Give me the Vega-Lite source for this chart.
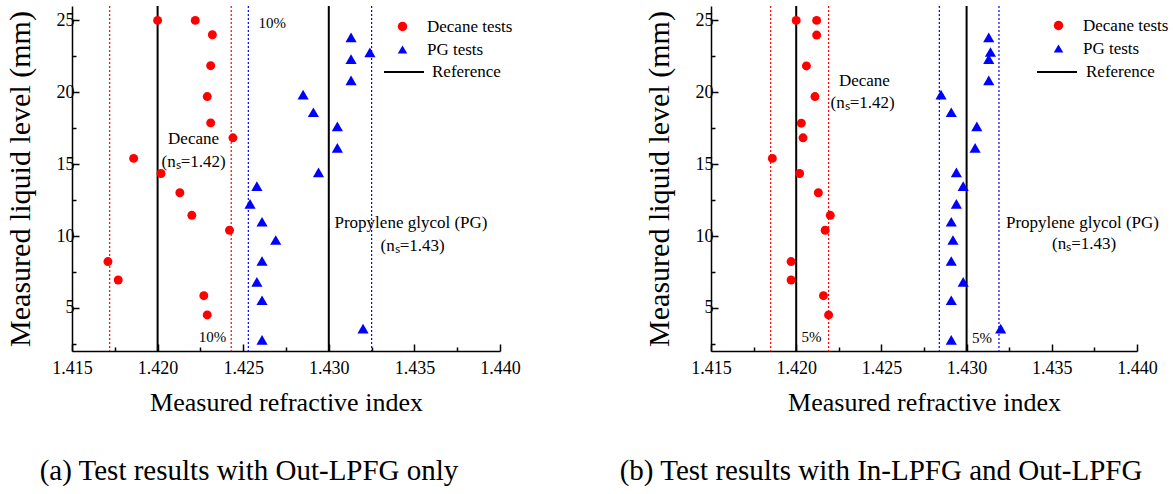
{
  "$schema": "https://vega.github.io/schema/vega-lite/v6.json",
  "background": "white",
  "padding": {"left": 5, "top": 5, "right": 0, "bottom": 0},
  "bounds": "flush",
  "spacing": 211,
  "config": {
    "font": "Liberation Serif",
    "view": {"stroke": null},
    "axis": {
      "labelFont": "Liberation Serif", "labelFontSize": 18, "labelColor": "black", "labelFlush": false,
      "titleFont": "Liberation Serif", "titleFontWeight": "normal", "titleColor": "black",
      "domainColor": "black", "domainWidth": 1.5, "tickColor": "black", "tickWidth": 1.5, "grid": false
    },
    "legend": {"labelFont": "Liberation Serif", "labelFontSize": 17, "labelColor": "black", "padding": 0},
    "text": {"font": "Liberation Serif", "fontSize": 17, "color": "black"}
  },
  "datasets": {
    "pts": [
      {"p": "a", "m": "Decane tests", "x": 1.4200, "y": 25.0},
      {"p": "a", "m": "Decane tests", "x": 1.4222, "y": 25.0},
      {"p": "a", "m": "Decane tests", "x": 1.4232, "y": 24.0},
      {"p": "a", "m": "Decane tests", "x": 1.4231, "y": 21.85},
      {"p": "a", "m": "Decane tests", "x": 1.4229, "y": 19.7},
      {"p": "a", "m": "Decane tests", "x": 1.4231, "y": 17.87},
      {"p": "a", "m": "Decane tests", "x": 1.4244, "y": 16.83},
      {"p": "a", "m": "Decane tests", "x": 1.4186, "y": 15.4},
      {"p": "a", "m": "Decane tests", "x": 1.4202, "y": 14.35},
      {"p": "a", "m": "Decane tests", "x": 1.4213, "y": 13.01},
      {"p": "a", "m": "Decane tests", "x": 1.4220, "y": 11.44},
      {"p": "a", "m": "Decane tests", "x": 1.4242, "y": 10.4},
      {"p": "a", "m": "Decane tests", "x": 1.4171, "y": 8.22},
      {"p": "a", "m": "Decane tests", "x": 1.4177, "y": 6.94},
      {"p": "a", "m": "Decane tests", "x": 1.4227, "y": 5.85},
      {"p": "a", "m": "Decane tests", "x": 1.4229, "y": 4.51},
      {"p": "a", "m": "PG tests", "x": 1.4313, "y": 23.82},
      {"p": "a", "m": "PG tests", "x": 1.4324, "y": 22.78},
      {"p": "a", "m": "PG tests", "x": 1.4313, "y": 22.31},
      {"p": "a", "m": "PG tests", "x": 1.4313, "y": 20.83},
      {"p": "a", "m": "PG tests", "x": 1.4285, "y": 19.84},
      {"p": "a", "m": "PG tests", "x": 1.4291, "y": 18.61},
      {"p": "a", "m": "PG tests", "x": 1.4305, "y": 17.62},
      {"p": "a", "m": "PG tests", "x": 1.4305, "y": 16.13},
      {"p": "a", "m": "PG tests", "x": 1.4294, "y": 14.42},
      {"p": "a", "m": "PG tests", "x": 1.4258, "y": 13.47},
      {"p": "a", "m": "PG tests", "x": 1.4254, "y": 12.24},
      {"p": "a", "m": "PG tests", "x": 1.4261, "y": 10.99},
      {"p": "a", "m": "PG tests", "x": 1.4269, "y": 9.72},
      {"p": "a", "m": "PG tests", "x": 1.4261, "y": 8.26},
      {"p": "a", "m": "PG tests", "x": 1.4258, "y": 6.81},
      {"p": "a", "m": "PG tests", "x": 1.4261, "y": 5.53},
      {"p": "a", "m": "PG tests", "x": 1.4320, "y": 3.56},
      {"p": "a", "m": "PG tests", "x": 1.4261, "y": 2.78},
      {"p": "b", "m": "Decane tests", "x": 1.4200, "y": 25.0},
      {"p": "b", "m": "Decane tests", "x": 1.4212, "y": 25.0},
      {"p": "b", "m": "Decane tests", "x": 1.4212, "y": 23.98},
      {"p": "b", "m": "Decane tests", "x": 1.4206, "y": 21.83},
      {"p": "b", "m": "Decane tests", "x": 1.4211, "y": 19.7},
      {"p": "b", "m": "Decane tests", "x": 1.4203, "y": 17.85},
      {"p": "b", "m": "Decane tests", "x": 1.4204, "y": 16.83},
      {"p": "b", "m": "Decane tests", "x": 1.4186, "y": 15.4},
      {"p": "b", "m": "Decane tests", "x": 1.4202, "y": 14.35},
      {"p": "b", "m": "Decane tests", "x": 1.4213, "y": 13.01},
      {"p": "b", "m": "Decane tests", "x": 1.4220, "y": 11.44},
      {"p": "b", "m": "Decane tests", "x": 1.4217, "y": 10.4},
      {"p": "b", "m": "Decane tests", "x": 1.4197, "y": 8.22},
      {"p": "b", "m": "Decane tests", "x": 1.4197, "y": 6.94},
      {"p": "b", "m": "Decane tests", "x": 1.4216, "y": 5.85},
      {"p": "b", "m": "Decane tests", "x": 1.4219, "y": 4.51},
      {"p": "b", "m": "PG tests", "x": 1.4313, "y": 23.82},
      {"p": "b", "m": "PG tests", "x": 1.4314, "y": 22.8},
      {"p": "b", "m": "PG tests", "x": 1.4313, "y": 22.31},
      {"p": "b", "m": "PG tests", "x": 1.4313, "y": 20.83},
      {"p": "b", "m": "PG tests", "x": 1.4285, "y": 19.84},
      {"p": "b", "m": "PG tests", "x": 1.4291, "y": 18.61},
      {"p": "b", "m": "PG tests", "x": 1.4306, "y": 17.62},
      {"p": "b", "m": "PG tests", "x": 1.4305, "y": 16.13},
      {"p": "b", "m": "PG tests", "x": 1.4294, "y": 14.42},
      {"p": "b", "m": "PG tests", "x": 1.4298, "y": 13.47},
      {"p": "b", "m": "PG tests", "x": 1.4294, "y": 12.24},
      {"p": "b", "m": "PG tests", "x": 1.4291, "y": 10.99},
      {"p": "b", "m": "PG tests", "x": 1.4292, "y": 9.72},
      {"p": "b", "m": "PG tests", "x": 1.4291, "y": 8.26},
      {"p": "b", "m": "PG tests", "x": 1.4298, "y": 6.81},
      {"p": "b", "m": "PG tests", "x": 1.4291, "y": 5.53},
      {"p": "b", "m": "PG tests", "x": 1.4320, "y": 3.56},
      {"p": "b", "m": "PG tests", "x": 1.4291, "y": 2.78}
    ],
    "refs": [
      {"p": "a", "x": 1.42, "k": "Reference"},
      {"p": "a", "x": 1.43, "k": "Reference"},
      {"p": "b", "x": 1.42, "k": "Reference"},
      {"p": "b", "x": 1.43, "k": "Reference"}
    ],
    "bounds": [
      {"p": "a", "m": "Decane tests", "x": 1.4172},
      {"p": "a", "m": "Decane tests", "x": 1.4243},
      {"p": "a", "m": "PG tests", "x": 1.4253},
      {"p": "a", "m": "PG tests", "x": 1.4325},
      {"p": "b", "m": "Decane tests", "x": 1.4185},
      {"p": "b", "m": "Decane tests", "x": 1.4219},
      {"p": "b", "m": "PG tests", "x": 1.4284},
      {"p": "b", "m": "PG tests", "x": 1.4319}
    ],
    "notes": [
      {"p": "a", "k": "label", "t": "Decane", "x": 1.4221, "y": 16.74},
      {"p": "a", "k": "label", "t": "(nₛ=1.42)", "x": 1.4221, "y": 15.14},
      {"p": "a", "k": "label", "t": "Propylene glycol (PG)", "x": 1.4348, "y": 10.9},
      {"p": "a", "k": "label", "t": "(nₛ=1.43)", "x": 1.4349, "y": 9.31},
      {"p": "a", "k": "pct", "t": "10%", "x": 1.4267, "y": 24.8},
      {"p": "a", "k": "pct", "t": "10%", "x": 1.4232, "y": 3.0},
      {"p": "b", "k": "label", "t": "Decane", "x": 1.4240, "y": 20.76},
      {"p": "b", "k": "label", "t": "(nₛ=1.42)", "x": 1.4239, "y": 19.24},
      {"p": "b", "k": "label", "t": "Propylene glycol (PG)", "x": 1.4368, "y": 10.9},
      {"p": "b", "k": "label", "t": "(nₛ=1.43)", "x": 1.4369, "y": 9.44},
      {"p": "b", "k": "pct", "t": "5%", "x": 1.4209, "y": 3.0},
      {"p": "b", "k": "pct", "t": "5%", "x": 1.4309, "y": 2.92}
    ]
  },
  "resolve": {
    "scale": {"color": "independent", "shape": "independent", "strokeDash": "independent"},
    "legend": {"color": "independent", "shape": "independent", "strokeDash": "independent"}
  },
  "hconcat": [
    {
      "width": 428, "height": 345,
      "title": {"text": "(a) Test results with Out-LPFG only", "orient": "bottom", "fontSize": 29, "font": "Liberation Serif", "fontWeight": "normal", "color": "black", "offset": 42, "dx": -37},
      "encoding": {
        "x": {"field": "x", "type": "quantitative", "scale": {"domain": [1.415, 1.44], "nice": false, "zero": false},
          "axis": {"title": "Measured refractive index", "titleFontSize": 26, "titlePadding": 12, "labelPadding": 15,
            "values": [1.415, 1.4175, 1.42, 1.4225, 1.425, 1.4275, 1.43, 1.4325, 1.435, 1.4375, 1.44],
            "labelExpr": "abs(datum.value*200 - round(datum.value*200)) < 0.01 ? format(datum.value, '.3f') : ''",
            "tickSize": {"condition": {"test": "abs(datum.value*200 - round(datum.value*200)) < 0.01", "value": -7}, "value": -4}}},
        "y": {"field": "y", "type": "quantitative", "scale": {"domain": [2, 26], "nice": false, "zero": false},
          "axis": {"title": "Measured liquid level (mm)", "titleFontSize": 30, "titlePadding": 21, "labelPadding": 5,
            "values": [2.5, 5, 7.5, 10, 12.5, 15, 17.5, 20, 22.5, 25],
            "labelExpr": "datum.value % 5 === 0 ? datum.label : ''",
            "tickSize": {"condition": {"test": "datum.value % 5 === 0", "value": -7}, "value": -4}}}
      },
      "layer": [
        {
          "data": {"name": "bounds"},
          "transform": [{"filter": "datum.p === 'a' && datum.m === 'Decane tests'"}],
          "mark": {"type": "rule", "strokeWidth": 1.2, "strokeDash": [2, 2], "color": "#ff0000"},
          "encoding": {"x": {"field": "x", "type": "quantitative"}, "y": null}
        },
        {
          "data": {"name": "bounds"},
          "transform": [{"filter": "datum.p === 'a' && datum.m === 'PG tests'"}],
          "mark": {"type": "rule", "strokeWidth": 1.2, "strokeDash": [2, 2], "color": "#0000ff"},
          "encoding": {"x": {"field": "x", "type": "quantitative"}, "y": null}
        },
        {
          "data": {"name": "refs"},
          "transform": [{"filter": "datum.p === 'a'"}],
          "mark": {"type": "rule", "strokeWidth": 2, "color": "black"},
          "encoding": {"x": {"field": "x", "type": "quantitative"}, "y": null,
            "strokeDash": {"field": "k", "type": "nominal", "scale": {"domain": ["Reference"], "range": [[1, 0]]},
              "legend": {"title": null, "orient": "none", "legendX": 311, "legendY": 45, "symbolType": "stroke", "symbolSize": 1600, "symbolStrokeWidth": 2, "symbolStrokeColor": "black", "labelOffset": 7}}}
        },
        {
          "data": {"name": "pts"},
          "transform": [{"filter": "datum.p === 'a' && datum.m === 'Decane tests'"}],
          "mark": {"type": "point", "filled": true, "size": 80, "opacity": 1},
          "encoding": {
            "color": {"field": "m", "type": "nominal", "scale": {"domain": ["Decane tests", "PG tests"], "range": ["#ff0000", "#0000ff"]},
              "legend": {"title": null, "orient": "none", "legendX": 322, "legendY": 12, "symbolSize": 90, "labelOffset": 16, "rowPadding": 5, "symbolOpacity": 1}},
            "shape": {"field": "m", "type": "nominal", "scale": {"domain": ["Decane tests", "PG tests"], "range": ["circle", "triangle-up"]},
              "legend": {"title": null, "orient": "none", "legendX": 322, "legendY": 12, "symbolSize": 90, "labelOffset": 16, "rowPadding": 5, "symbolOpacity": 1}}
          }
        },
        {
          "data": {"name": "pts"},
          "transform": [{"filter": "datum.p === 'a' && datum.m === 'PG tests'"}],
          "mark": {"type": "point", "filled": true, "size": 125, "opacity": 1},
          "encoding": {
            "color": {"field": "m", "type": "nominal"},
            "shape": {"field": "m", "type": "nominal"}
          }
        },
        {
          "data": {"name": "notes"},
          "transform": [{"filter": "datum.p === 'a' && datum.k === 'label'"}],
          "mark": {"type": "text", "fontSize": 17, "align": "center", "baseline": "middle"},
          "encoding": {"text": {"field": "t"}}
        },
        {
          "data": {"name": "notes"},
          "transform": [{"filter": "datum.p === 'a' && datum.k === 'pct'"}],
          "mark": {"type": "text", "fontSize": 15, "align": "center", "baseline": "middle"},
          "encoding": {"text": {"field": "t"}}
        }
      ]
    },
    {
      "width": 426, "height": 345,
      "title": {"text": "(b) Test results with In-LPFG and Out-LPFG", "orient": "bottom", "fontSize": 29, "font": "Liberation Serif", "fontWeight": "normal", "color": "black", "offset": 42, "dx": -43},
      "encoding": {
        "x": {"field": "x", "type": "quantitative", "scale": {"domain": [1.415, 1.44], "nice": false, "zero": false},
          "axis": {"title": "Measured refractive index", "titleFontSize": 26, "titlePadding": 12, "labelPadding": 15,
            "values": [1.415, 1.4175, 1.42, 1.4225, 1.425, 1.4275, 1.43, 1.4325, 1.435, 1.4375, 1.44],
            "labelExpr": "abs(datum.value*200 - round(datum.value*200)) < 0.01 ? format(datum.value, '.3f') : ''",
            "tickSize": {"condition": {"test": "abs(datum.value*200 - round(datum.value*200)) < 0.01", "value": -7}, "value": -4}}},
        "y": {"field": "y", "type": "quantitative", "scale": {"domain": [2, 26], "nice": false, "zero": false},
          "axis": {"title": "Measured liquid level (mm)", "titleFontSize": 30, "titlePadding": 21, "labelPadding": 5,
            "values": [2.5, 5, 7.5, 10, 12.5, 15, 17.5, 20, 22.5, 25],
            "labelExpr": "datum.value % 5 === 0 ? datum.label : ''",
            "tickSize": {"condition": {"test": "datum.value % 5 === 0", "value": -7}, "value": -4}}}
      },
      "layer": [
        {
          "data": {"name": "bounds"},
          "transform": [{"filter": "datum.p === 'b' && datum.m === 'Decane tests'"}],
          "mark": {"type": "rule", "strokeWidth": 1.2, "strokeDash": [2, 2], "color": "#ff0000"},
          "encoding": {"x": {"field": "x", "type": "quantitative"}, "y": null}
        },
        {
          "data": {"name": "bounds"},
          "transform": [{"filter": "datum.p === 'b' && datum.m === 'PG tests'"}],
          "mark": {"type": "rule", "strokeWidth": 1.2, "strokeDash": [2, 2], "color": "#0000ff"},
          "encoding": {"x": {"field": "x", "type": "quantitative"}, "y": null}
        },
        {
          "data": {"name": "refs"},
          "transform": [{"filter": "datum.p === 'b'"}],
          "mark": {"type": "rule", "strokeWidth": 2, "color": "black"},
          "encoding": {"x": {"field": "x", "type": "quantitative"}, "y": null,
            "strokeDash": {"field": "k", "type": "nominal", "scale": {"domain": ["Reference"], "range": [[1, 0]]},
              "legend": {"title": null, "orient": "none", "legendX": 325, "legendY": 45, "symbolType": "stroke", "symbolSize": 1600, "symbolStrokeWidth": 2, "symbolStrokeColor": "black", "labelOffset": 8}}}
        },
        {
          "data": {"name": "pts"},
          "transform": [{"filter": "datum.p === 'b' && datum.m === 'Decane tests'"}],
          "mark": {"type": "point", "filled": true, "size": 80, "opacity": 1},
          "encoding": {
            "color": {"field": "m", "type": "nominal", "scale": {"domain": ["Decane tests", "PG tests"], "range": ["#ff0000", "#0000ff"]},
              "legend": {"title": null, "orient": "none", "legendX": 339, "legendY": 11, "symbolSize": 90, "labelOffset": 16, "rowPadding": 5, "symbolOpacity": 1}},
            "shape": {"field": "m", "type": "nominal", "scale": {"domain": ["Decane tests", "PG tests"], "range": ["circle", "triangle-up"]},
              "legend": {"title": null, "orient": "none", "legendX": 339, "legendY": 11, "symbolSize": 90, "labelOffset": 16, "rowPadding": 5, "symbolOpacity": 1}}
          }
        },
        {
          "data": {"name": "pts"},
          "transform": [{"filter": "datum.p === 'b' && datum.m === 'PG tests'"}],
          "mark": {"type": "point", "filled": true, "size": 125, "opacity": 1},
          "encoding": {
            "color": {"field": "m", "type": "nominal"},
            "shape": {"field": "m", "type": "nominal"}
          }
        },
        {
          "data": {"name": "notes"},
          "transform": [{"filter": "datum.p === 'b' && datum.k === 'label'"}],
          "mark": {"type": "text", "fontSize": 17, "align": "center", "baseline": "middle"},
          "encoding": {"text": {"field": "t"}}
        },
        {
          "data": {"name": "notes"},
          "transform": [{"filter": "datum.p === 'b' && datum.k === 'pct'"}],
          "mark": {"type": "text", "fontSize": 15, "align": "center", "baseline": "middle"},
          "encoding": {"text": {"field": "t"}}
        }
      ]
    }
  ]
}
